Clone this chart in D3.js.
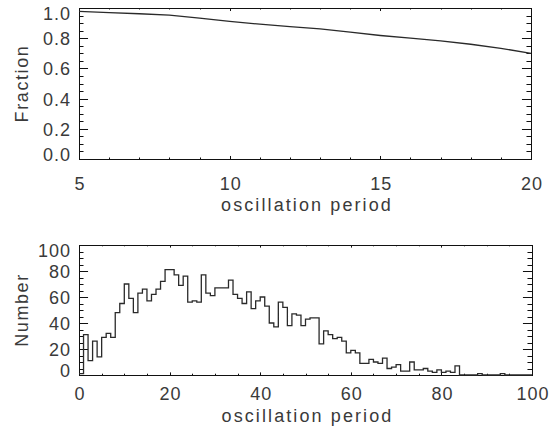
<!DOCTYPE html>
<html>
<head>
<meta charset="utf-8">
<script src="https://cdn.jsdelivr.net/npm/d3@7"></script>
<style>
  body { margin: 0; background: #fff; }
  text { font-family: "Liberation Sans", Arial, sans-serif; fill: #3a3a3a; }
</style>
</head>
<body>
<svg id="chart" width="551" height="432"></svg>
<script>
// Cumulative fraction against oscillation period
const fracPeriod = [5, 6, 7, 8, 9, 10, 11, 12, 13, 14, 15, 16, 17, 18, 19, 20];
const fracValue  = [0.978, 0.970, 0.962, 0.953, 0.933, 0.912, 0.893, 0.877, 0.862, 0.840, 0.818, 0.800, 0.782, 0.760, 0.733, 0.700];
const fracTicksX = [5, 10, 15, 20];
const fracTicksY = [0.0, 0.2, 0.4, 0.6, 0.8, 1.0];

// Histogram of oscillation periods, unit-width bins starting at 0
const histCounts = [
   1, 31, 11, 26, 14, 29, 32, 29, 48, 55,
  70, 59, 48, 63, 66, 57, 62, 66, 72, 81,
  81, 77, 69, 76, 56, 57, 56, 77, 63, 61,
  67, 67, 67, 73, 62, 59, 55, 64, 51, 57,
  60, 53, 40, 37, 56, 52, 38, 47, 46, 38,
  43, 44, 44, 24, 34, 31, 28, 29, 26, 17,
  19, 17,  9,  9, 12, 10,  9, 13,  5,  6,
   8,  3,  3, 10,  4,  4,  5,  3,  2,  4,
   2,  3,  2,  7,  0,  0,  0,  0,  1,  0,
   0,  0,  0,  1,  0,  0,  0,  0,  0,  0
];
const histTicksX = [0, 20, 40, 60, 80, 100];
const histTicksY = [0, 20, 40, 60, 80, 100];

const svg = d3.select("#chart");
const fontSize = 18;

function panel(cfg) {
  const { left, right, top, bottom } = cfg;
  const g = svg.append("g");
  const x = d3.scaleLinear().domain(cfg.xDomain).range([left, right]);
  const y = d3.scaleLinear().domain(cfg.yDomain).range([bottom, top]);
  const h = bottom - top, w = right - left;
  const xMaj = 0.02 * h, yMaj = 0.02 * w;

  // ticks on all four sides, pointing inward
  const xMinor = d3.range(cfg.xDomain[0], cfg.xDomain[1] + 1e-9, cfg.xMinorStep);
  const yMinor = d3.range(cfg.yDomain[0], cfg.yDomain[1] + 1e-9, cfg.yMinorStep);
  const isMajor = (v, arr) => arr.some(t => Math.abs(t - v) < 1e-6);

  const tk = g.append("g").attr("stroke", "#111").attr("stroke-width", 1);
  xMinor.forEach(v => {
    const len = isMajor(v, cfg.xTicks) ? xMaj : xMaj / 2;
    const px = Math.round(x(v)) + 0.5;
    tk.append("line").attr("x1", px).attr("x2", px).attr("y1", bottom).attr("y2", bottom - len);
    tk.append("line").attr("x1", px).attr("x2", px).attr("y1", top).attr("y2", top + len);
  });
  yMinor.forEach(v => {
    const len = isMajor(v, cfg.yTicks) ? yMaj : yMaj / 2;
    const py = Math.round(y(v)) + 0.5;
    tk.append("line").attr("y1", py).attr("y2", py).attr("x1", left).attr("x2", left + len);
    tk.append("line").attr("y1", py).attr("y2", py).attr("x1", right).attr("x2", right - len);
  });

  // tick labels
  g.append("g").selectAll("text").data(cfg.xTicks).join("text")
    .attr("x", d => x(d) + 1).attr("y", bottom + cfg.xLabelGap)
    .attr("text-anchor", "middle").attr("font-size", fontSize)
    .attr("letter-spacing", 1).text(cfg.xFormat);
  const n = cfg.yTicks.length;
  g.append("g").selectAll("text").data(cfg.yTicks).join("text")
    .attr("x", left - 8)
    .attr("y", (d, i) => y(d) + 7 + (i === 0 ? -5 : i === n - 1 ? 5 : 0))
    .attr("text-anchor", "end").attr("font-size", fontSize)
    .attr("letter-spacing", 1).text(cfg.yFormat);

  // axis titles
  g.append("text").attr("x", (left + right) / 2 + 2).attr("y", bottom + cfg.xTitleGap)
    .attr("text-anchor", "middle").attr("font-size", fontSize)
    .attr("letter-spacing", 2.1).text(cfg.xTitle);
  g.append("text")
    .attr("transform", `translate(${cfg.yTitleX},${(top + bottom) / 2}) rotate(-90)`)
    .attr("text-anchor", "middle").attr("font-size", fontSize)
    .attr("letter-spacing", 1.6).text(cfg.yTitle);

  // frame
  g.append("rect").attr("x", left + 0.5).attr("y", top + 0.5)
    .attr("width", w).attr("height", h)
    .attr("fill", "none").attr("stroke", "#111").attr("stroke-width", 1);
  return { g, x, y };
}

// Upper panel: fraction curve
const p1 = panel({
  left: 79, right: 531, top: 8, bottom: 159,
  xDomain: [5, 20], yDomain: [0, 1],
  xTicks: fracTicksX, yTicks: fracTicksY,
  xMinorStep: 1, yMinorStep: 0.05,
  xFormat: d3.format("d"), yFormat: d3.format(".1f"),
  xLabelGap: 31, xTitleGap: 52, yTitleX: 28,
  xTitle: "oscillation period", yTitle: "Fraction"
});
p1.g.append("path")
  .datum(fracPeriod.map((p, i) => [p, fracValue[i]]))
  .attr("fill", "none").attr("stroke", "#2a2a2a").attr("stroke-width", 1.3)
  .attr("d", d3.line().x(d => p1.x(d[0])).y(d => p1.y(d[1])));

// Lower panel: histogram
const p2 = panel({
  left: 79, right: 532, top: 245, bottom: 375,
  xDomain: [0, 100], yDomain: [0, 100],
  xTicks: histTicksX, yTicks: histTicksY,
  xMinorStep: 5, yMinorStep: 5,
  xFormat: d3.format("d"), yFormat: d3.format("d"),
  xLabelGap: 25, xTitleGap: 47, yTitleX: 28,
  xTitle: "oscillation period", yTitle: "Number"
});
const stepPts = [];
histCounts.forEach((c, i) => { stepPts.push([i, c]); stepPts.push([i + 1, c]); });
p2.g.append("path")
  .datum(stepPts)
  .attr("fill", "none").attr("stroke", "#2a2a2a").attr("stroke-width", 1.3)
  .attr("d", d3.line().x(d => p2.x(d[0])).y(d => p2.y(d[1])));
</script>
</body>
</html>
